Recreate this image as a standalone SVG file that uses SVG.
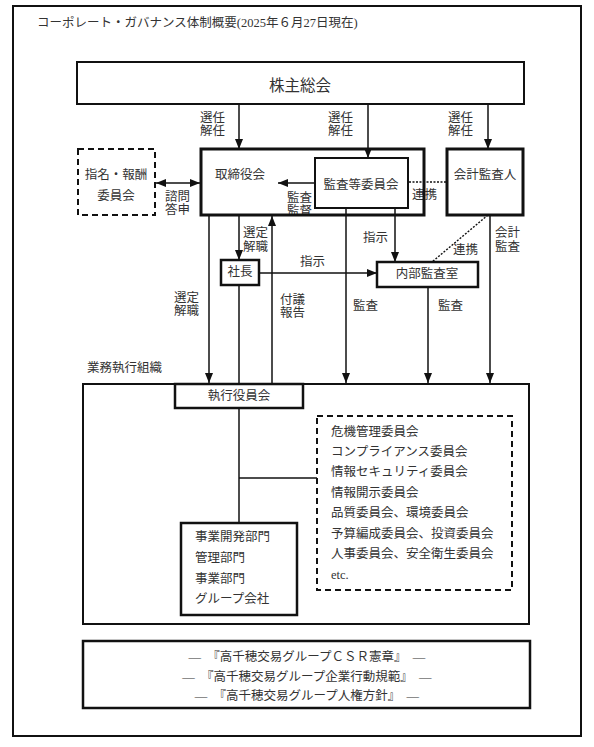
<svg xmlns="http://www.w3.org/2000/svg" width="594" height="747" viewBox="0 0 594 747">
<style>
text{font-family:"Liberation Serif","Noto Sans CJK JP",serif;font-size:12.5px;fill:#333;dominant-baseline:central}
.box{fill:#fff;stroke:#111;stroke-width:2}
.thick{stroke-width:3}
.dash{fill:#fff;stroke:#111;stroke-width:2;stroke-dasharray:6 4}
.ln{stroke:#111;stroke-width:1.5;fill:none}
.dot{stroke:#111;stroke-width:1.5;fill:none;stroke-dasharray:2 1.5}
.c{text-anchor:middle}
</style>
<defs>
<marker id="ah" markerUnits="userSpaceOnUse" markerWidth="10" markerHeight="10" viewBox="0 0 10 10" refX="10" refY="5" orient="auto">
<path d="M0,1 L10,5 L0,9 Z" fill="#111"/>
</marker>
<marker id="as" markerUnits="userSpaceOnUse" markerWidth="10" markerHeight="10" viewBox="0 0 10 10" refX="0" refY="5" orient="auto">
<path d="M10,1 L0,5 L10,9 Z" fill="#111"/>
</marker>
</defs>
<rect x="0" y="0" width="594" height="747" fill="#fff"/>
<rect x="13" y="6" width="568" height="730" fill="none" stroke="#111" stroke-width="2"/>
<text x="37" y="23">コーポレート・ガバナンス体制概要(2025年６月27日現在)</text>

<g id="org">
<rect class="box" x="83" y="384" width="446" height="240"/>
<text x="87" y="368">業務執行組織</text>
</g>

<g id="connectors">
<line class="ln" x1="239" y1="104" x2="239" y2="149" marker-end="url(#ah)"/>
<line class="ln" x1="368" y1="104" x2="368" y2="158" marker-end="url(#ah)"/>
<line class="ln" x1="488" y1="104" x2="488" y2="149" marker-end="url(#ah)"/>
<line class="ln" x1="156" y1="183" x2="200" y2="183" marker-start="url(#as)" marker-end="url(#ah)"/>
<line class="ln" x1="315" y1="183" x2="278" y2="183" marker-end="url(#ah)"/>
<line class="dot" x1="409" y1="182" x2="447" y2="182"/>
<line class="ln" x1="239" y1="215" x2="239" y2="260" marker-end="url(#ah)"/>
<line class="ln" x1="209" y1="215" x2="209" y2="383" marker-end="url(#ah)"/>
<line class="ln" x1="272" y1="384" x2="272" y2="216" marker-end="url(#ah)"/>
<line class="ln" x1="239" y1="285" x2="239" y2="384"/>
<line class="ln" x1="259" y1="273" x2="377" y2="273" marker-end="url(#ah)"/>
<line class="ln" x1="346" y1="208" x2="346" y2="383" marker-end="url(#ah)"/>
<line class="ln" x1="395" y1="208" x2="395" y2="262" marker-end="url(#ah)"/>
<line class="dot" x1="488" y1="215" x2="432" y2="262"/>
<line class="ln" x1="428" y1="287" x2="428" y2="383" marker-end="url(#ah)"/>
<line class="ln" x1="490" y1="215" x2="490" y2="383" marker-end="url(#ah)"/>
<line class="ln" x1="239" y1="408" x2="239" y2="523"/>
<line class="ln" x1="239" y1="478" x2="317" y2="478"/>
<text x="200" y="118">選任</text><text x="200" y="131">解任</text>
<text x="328" y="118">選任</text><text x="328" y="131">解任</text>
<text x="448" y="118">選任</text><text x="448" y="131">解任</text>
<text x="165" y="197">諮問</text><text x="165" y="210">答申</text>
<text x="287" y="198">監査</text><text x="287" y="211">監督</text>
<text x="412" y="195">連携</text>
<text x="243" y="233">選定</text><text x="243" y="247">解職</text>
<text x="174" y="298">選定</text><text x="174" y="311">解職</text>
<text x="300" y="262">指示</text>
<text x="280" y="300">付議</text><text x="280" y="313">報告</text>
<text x="353" y="306">監査</text>
<text x="363" y="238">指示</text>
<text x="453" y="250">連携</text>
<text x="438" y="306">監査</text>
<text x="495" y="233">会計</text><text x="495" y="247">監査</text>
</g>

<g id="shareholders">
<rect class="box" x="77" y="62" width="447" height="42"/>
<text class="c" x="300" y="85" style="font-size:15.5px">株主総会</text>
</g>

<g id="nomination">
<rect class="dash" x="78" y="149" width="77" height="66"/>
<text class="c" x="116" y="175">指名・報酬</text>
<text class="c" x="116" y="196">委員会</text>
</g>

<g id="board">
<rect class="box thick" x="201" y="149" width="223" height="66" fill="none" style="fill:none"/>
<text x="215" y="175">取締役会</text>
</g>

<g id="auditcommittee">
<rect class="box" x="315" y="158" width="93" height="50"/>
<text class="c" x="361" y="185">監査等委員会</text>
</g>

<g id="auditor">
<rect class="box thick" x="447" y="149" width="76" height="66"/>
<text class="c" x="485" y="175">会計監査人</text>
</g>

<g id="president">
<rect class="box" x="221" y="260" width="38" height="25" style="stroke-width:2.5"/>
<text class="c" x="240" y="272">社長</text>
</g>

<g id="internalaudit">
<rect class="box" x="377" y="262" width="101" height="25" style="stroke-width:2.5"/>
<text class="c" x="427" y="274">内部監査室</text>
</g>

<g id="executive">
<rect class="box" x="175" y="384" width="128" height="24" style="stroke-width:2.5"/>
<text class="c" x="239" y="396">執行役員会</text>
</g>

<g id="committees">
<rect class="dash" x="317" y="416" width="195" height="174"/>
<text x="331" y="432">危機管理委員会</text>
<text x="331" y="452">コンプライアンス委員会</text>
<text x="331" y="472">情報セキュリティ委員会</text>
<text x="331" y="493">情報開示委員会</text>
<text x="331" y="513">品質委員会、環境委員会</text>
<text x="331" y="534">予算編成委員会、投資委員会</text>
<text x="331" y="554">人事委員会、安全衛生委員会</text>
<text x="331" y="575">etc.</text>
</g>

<g id="departments">
<rect class="box" x="181" y="523" width="116" height="92" style="stroke-width:2.5"/>
<text x="195" y="537">事業開発部門</text>
<text x="195" y="558">管理部門</text>
<text x="195" y="579">事業部門</text>
<text x="195" y="599">グループ会社</text>
</g>

<g id="policies">
<rect class="box" x="83" y="641" width="447" height="67" style="stroke-width:2.5"/>
<text class="c" x="307" y="657">―　『高千穂交易グループＣＳＲ憲章』　―</text>
<text class="c" x="307" y="677">―　『高千穂交易グループ企業行動規範』　―</text>
<text class="c" x="307" y="696">―　『高千穂交易グループ人権方針』　―</text>
</g>
</svg>
